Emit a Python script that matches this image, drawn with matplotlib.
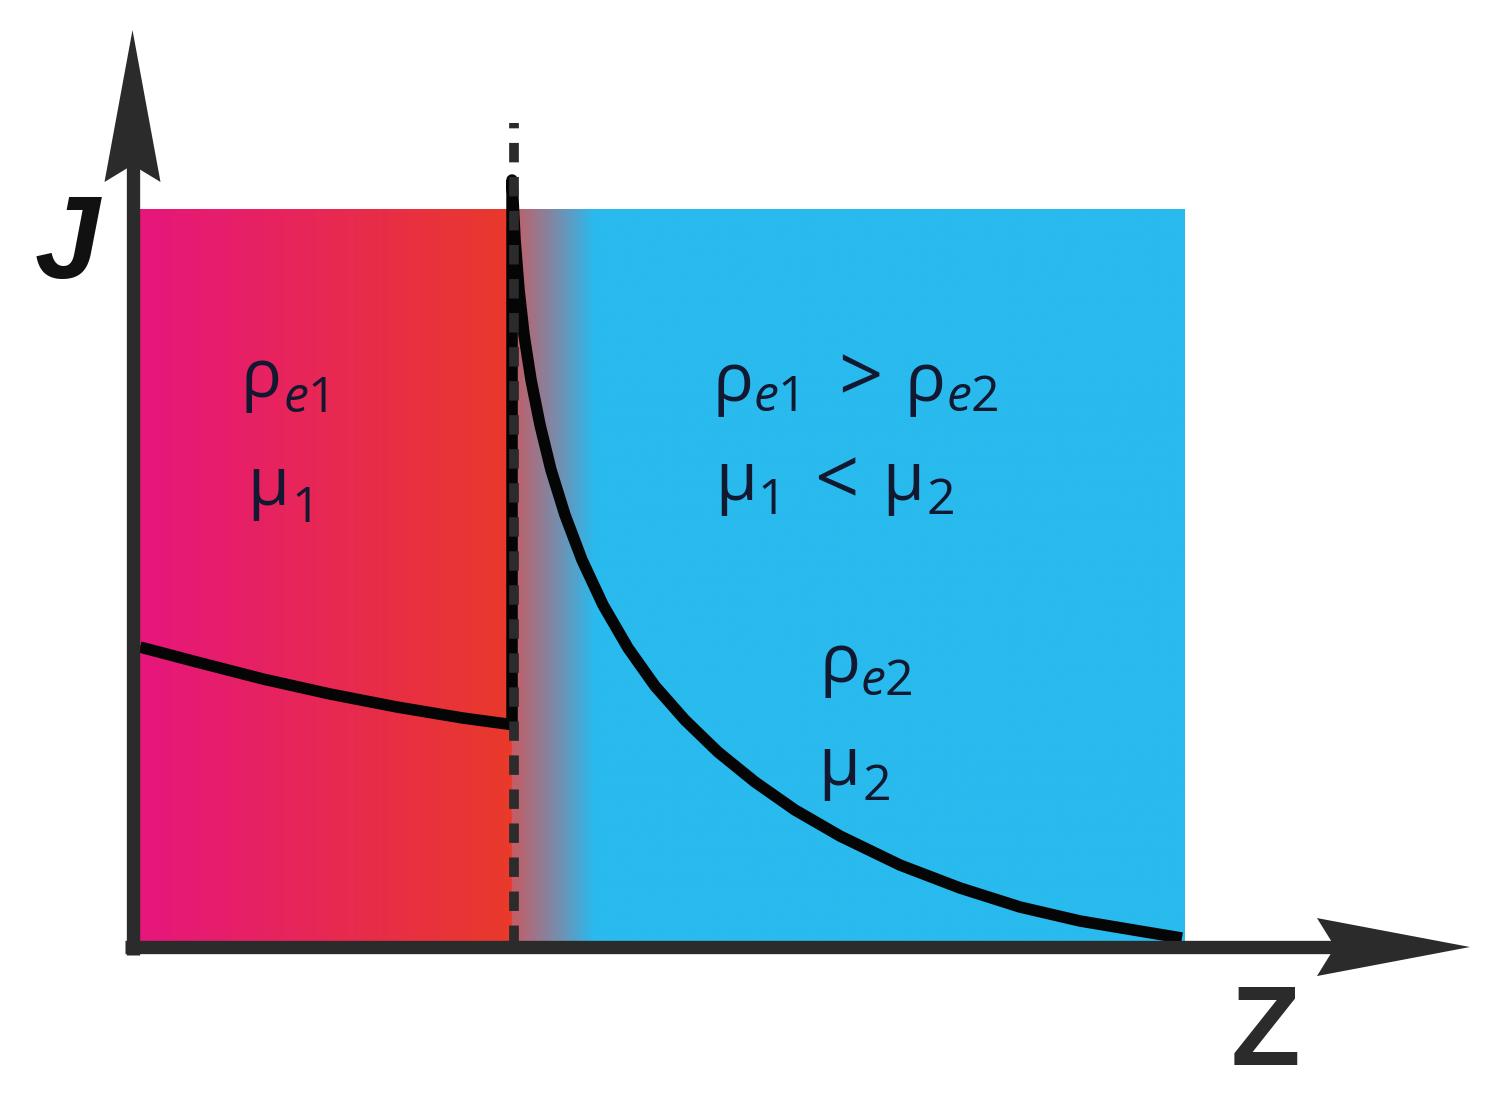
import numpy as np
import matplotlib
matplotlib.use('Agg')
import matplotlib.pyplot as plt
from matplotlib.patches import Polygon

# ---------------- data (schematic units) ----------------
# current density J along z in medium 1 (left of interface)
z_left = [0.0, 0.545, 1.177, 1.818, 2.459, 3.091, 3.512]
J_left = [4.054, 3.850, 3.619, 3.415, 3.238, 3.088, 3.007]
# interface position
z_interface = 3.56
# current density J in medium 2 (right of interface)
z_right = [3.560, 3.589, 3.627, 3.675, 3.742, 3.828, 3.933, 4.067, 4.230,
           4.431, 4.670, 4.928, 5.215, 5.531, 5.885, 6.268, 6.699, 7.273,
           7.847, 8.421, 8.995, 9.569, 9.971]
J_right = [10.408, 9.592, 8.912, 8.299, 7.687, 7.075, 6.463, 5.850, 5.238,
           4.626, 4.041, 3.524, 3.061, 2.626, 2.218, 1.837, 1.483, 1.088,
           0.776, 0.517, 0.327, 0.190, 0.095]
# region extents
z_max = 10.0
J_max = 10.0
z_dash = 3.579
J_dash_top = 11.18

axis_label_y = 'J'
axis_label_x = 'Z'

# ---------------- style ----------------
plt.rcParams['font.family'] = ['Open Sans', 'DejaVu Sans']
plt.rcParams['mathtext.fontset'] = 'custom'
plt.rcParams['mathtext.rm'] = 'Open Sans'
plt.rcParams['mathtext.it'] = 'Open Sans:italic'
plt.rcParams['mathtext.default'] = 'regular'

AX_COLOR = '#2b2b2b'
TXT_COLOR = '#121830'

W, H = 1499, 1106
fig = plt.figure(figsize=(W / 100, H / 100), dpi=100)
ax = fig.add_axes([0, 0, 1, 1])
ax.set_xlim(-1.340, 13.005)
ax.set_ylim(-2.190, 12.857)
ax.axis('off')


def fig_px(px, py):
    """layout helper: figure pixel (from top-left) -> axes data coords"""
    x0, x1 = ax.get_xlim()
    y0, y1 = ax.get_ylim()
    return x0 + (x1 - x0) * px / W, y1 - (y1 - y0) * py / H


# ---------------- gradient background ----------------
nx = 1200
zz = np.linspace(0, z_max, nx)
stops_z = [0.0, z_interface, z_interface + 1e-3, 3.99, 4.35, z_max]
stops_c = np.array([[230, 22, 125],
                    [233, 58, 42],
                    [198, 92, 100],
                    [120, 140, 172],
                    [41, 186, 238],
                    [41, 186, 238]]) / 255.0
img = np.zeros((2, nx, 3))
for k in range(3):
    img[:, :, k] = np.interp(zz, stops_z, stops_c[:, k])
ax.imshow(img, extent=(0, z_max, 0, J_max), aspect='auto',
          interpolation='bilinear', zorder=1)

# ---------------- curve ----------------
z_curve = z_left + [z_interface] + z_right
J_curve = J_left + [J_left[-1] - 0.01] + J_right
ax.plot(z_curve, J_curve, color='#050505', lw=8.3, solid_joinstyle='round',
        solid_capstyle='butt', zorder=3)

# dashed interface line
ax.plot([z_dash, z_dash], [0, J_dash_top], color=AX_COLOR, lw=7,
        dashes=(2.0, 1.5), dash_capstyle='butt', zorder=4)

# ---------------- axes with arrows ----------------
ax.plot([-0.144, 11.5], [-0.027, -0.027], color=AX_COLOR, lw=9.6,
        solid_capstyle='butt', zorder=5)
ax.plot([-0.072, -0.072], [-0.136, 10.8], color=AX_COLOR, lw=9.6,
        solid_capstyle='butt', zorder=5)
ax.add_patch(Polygon([[12.727, -0.027], [11.263, 0.367], [11.435, -0.027],
                      [11.263, -0.422]], closed=True, color=AX_COLOR,
                     lw=0, zorder=6))
ax.add_patch(Polygon([[-0.072, 12.449], [0.196, 10.381], [-0.072, 10.612],
                      [-0.340, 10.381]], closed=True, color=AX_COLOR,
                     lw=0, zorder=6))

ax.text(-0.70, 9.07, axis_label_y, fontsize=84, fontweight='bold',
        fontstyle='italic', family=['Liberation Sans', 'DejaVu Sans'],
        color='#111111', ha='center', va='baseline', zorder=6)
ax.text(10.77, -1.633, axis_label_x, fontsize=82, fontweight='bold',
        family=['Liberation Sans', 'DejaVu Sans'],
        color=AX_COLOR, ha='center', va='baseline', zorder=6)

# ---------------- annotations ----------------
FS_MAIN = 49
FS_SUB = 36
FS_OP = 56
# (text, left px, baseline px, size, ha)
pieces = [
    ('ρ', 241, 397, FS_MAIN, 'left'), (r'$\mathit{e}$1', 283, 412, FS_SUB, 'left'),
    ('μ', 247, 505, FS_MAIN, 'left'), ('1', 291, 522, FS_SUB, 'left'),
    ('ρ', 712, 401, FS_MAIN, 'left'), (r'$\mathit{e}$1', 753, 411, FS_SUB, 'left'),
    ('>', 860, 402, FS_OP, 'center'),
    ('ρ', 905, 401, FS_MAIN, 'left'), (r'$\mathit{e}$2', 946, 411, FS_SUB, 'left'),
    ('μ', 715, 500, FS_MAIN, 'left'), ('1', 757, 514, FS_SUB, 'left'),
    ('<', 836, 505, FS_OP, 'center'),
    ('μ', 882, 500, FS_MAIN, 'left'), ('2', 926, 514, FS_SUB, 'left'),
    ('ρ', 820, 682, FS_MAIN, 'left'), (r'$\mathit{e}$2', 860, 695, FS_SUB, 'left'),
    ('μ', 818, 785, FS_MAIN, 'left'), ('2', 862, 800, FS_SUB, 'left'),
]
for s, px, py, size, ha in pieces:
    x, y = fig_px(px, py)
    ax.text(x, y, s, fontsize=size, color=TXT_COLOR, ha=ha, va='baseline',
            zorder=6)

fig.savefig('out.png', dpi=100, facecolor='white')
